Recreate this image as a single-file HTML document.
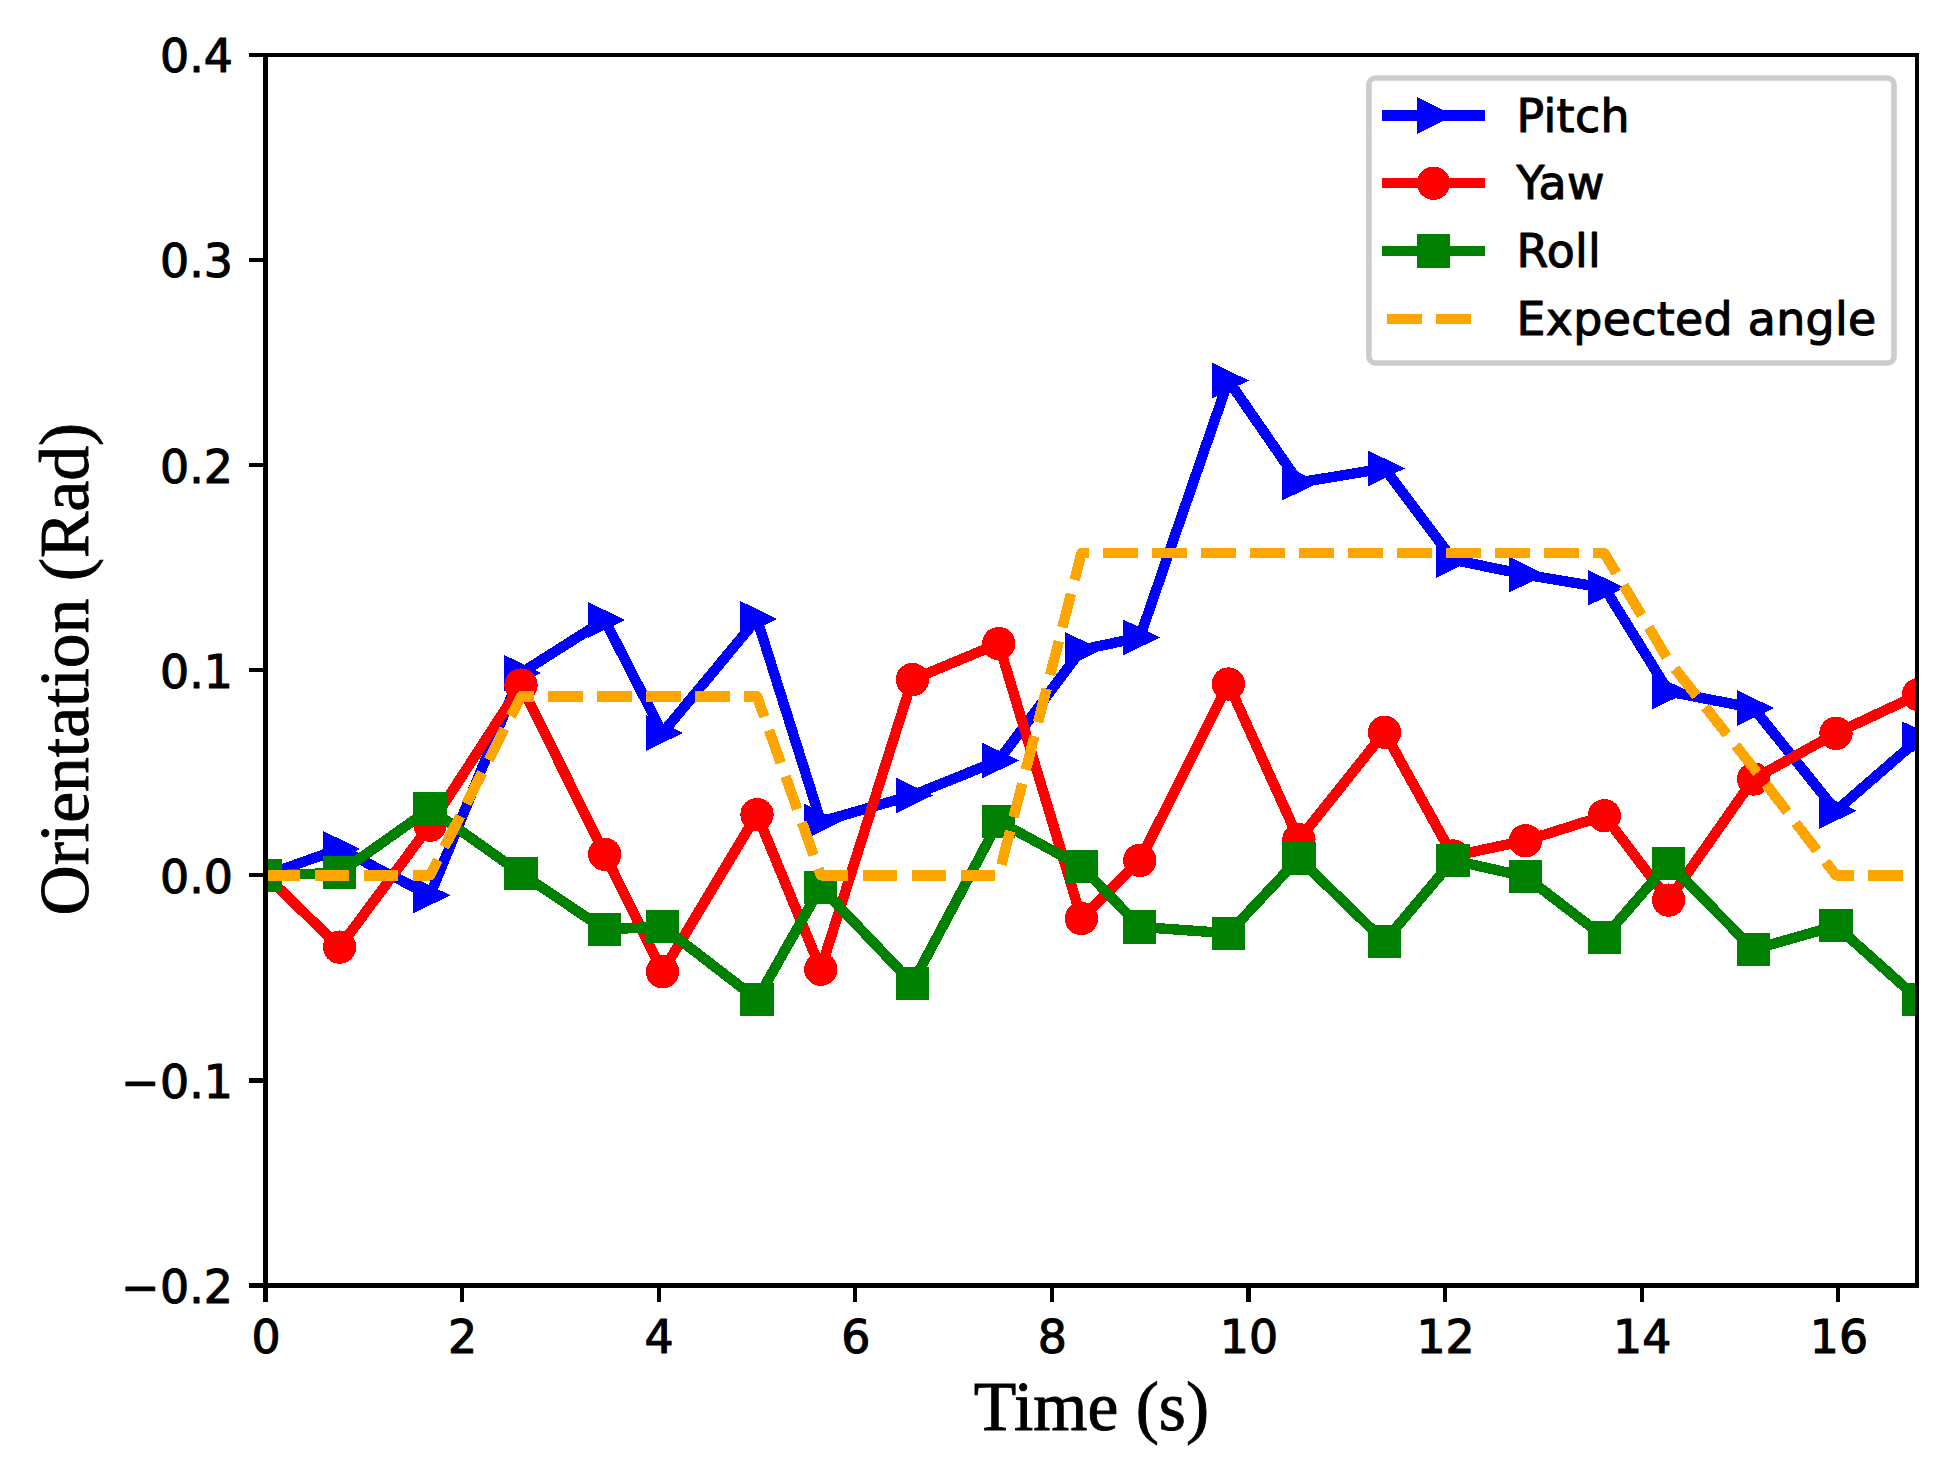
<!DOCTYPE html>
<html lang="en"><head><meta charset="utf-8"><title>Orientation vs Time</title>
<style>html,body{margin:0;padding:0;background:#fff}body{width:1939px;height:1470px;overflow:hidden}svg{display:block}.tk{font-family:"DejaVu Sans","Liberation Sans",sans-serif;font-size:45.83px;fill:#000;stroke:#000;stroke-width:1.1px;stroke-linejoin:round}.lg{letter-spacing:0.32px}.lb{font-family:"Liberation Serif","Times New Roman",serif;font-size:69.6px;fill:#000;stroke:#000;stroke-width:0.9px}</style></head><body>
<svg width="1939" height="1470" viewBox="0 0 1939 1470">
<rect width="1939" height="1470" fill="#fff"/>
<defs><clipPath id="ax"><rect x="265.5" y="55.0" width="1651.5" height="1230.5"/></clipPath></defs>
<g clip-path="url(#ax)" shape-rendering="crispEdges" fill="none" stroke-linejoin="round" stroke-linecap="butt">
<polyline points="265.5,875.3 339.6,848.9 430.0,895.3 521.0,673.0 604.7,620.0 662.5,733.0 757.0,619.0 820.8,821.6 912.4,795.4 998.7,760.5 1081.4,649.8 1139.8,637.4 1228.4,380.5 1298.9,482.5 1384.5,468.4 1453.0,559.7 1525.5,574.7 1604.4,587.8 1668.6,691.5 1753.5,708.0 1836.0,810.8 1918.5,739.2" stroke="#0000ff" stroke-width="10.4"/>
<g fill="#0000ff" stroke="none"><polygon points="248.8,857.3 285.9,875.3 248.8,893.3"/><polygon points="322.9,830.9 360.0,848.9 322.9,866.9"/><polygon points="413.3,877.3 450.4,895.3 413.3,913.3"/><polygon points="504.3,655.0 541.4,673.0 504.3,691.0"/><polygon points="588.0,602.0 625.1,620.0 588.0,638.0"/><polygon points="645.8,715.0 682.9,733.0 645.8,751.0"/><polygon points="740.3,601.0 777.4,619.0 740.3,637.0"/><polygon points="804.1,803.6 841.2,821.6 804.1,839.6"/><polygon points="895.7,777.4 932.8,795.4 895.7,813.4"/><polygon points="982.0,742.5 1019.1,760.5 982.0,778.5"/><polygon points="1064.7,631.8 1101.8,649.8 1064.7,667.8"/><polygon points="1123.1,619.4 1160.2,637.4 1123.1,655.4"/><polygon points="1211.7,362.5 1248.8,380.5 1211.7,398.5"/><polygon points="1282.2,464.5 1319.3,482.5 1282.2,500.5"/><polygon points="1367.8,450.4 1404.9,468.4 1367.8,486.4"/><polygon points="1436.3,541.7 1473.4,559.7 1436.3,577.7"/><polygon points="1508.8,556.7 1545.9,574.7 1508.8,592.7"/><polygon points="1587.7,569.8 1624.8,587.8 1587.7,605.8"/><polygon points="1651.9,673.5 1689.0,691.5 1651.9,709.5"/><polygon points="1736.8,690.0 1773.9,708.0 1736.8,726.0"/><polygon points="1819.3,792.8 1856.4,810.8 1819.3,828.8"/><polygon points="1901.8,721.2 1938.9,739.2 1901.8,757.2"/></g>
<polyline points="265.5,875.3 339.6,947.1 430.0,825.2 521.0,685.1 604.7,854.2 662.5,971.7 757.0,814.5 820.8,969.2 912.4,679.6 998.7,643.6 1081.4,918.5 1139.8,860.4 1228.4,684.0 1298.9,839.6 1384.5,732.3 1453.0,856.0 1525.5,840.7 1604.4,815.7 1668.6,900.1 1753.5,779.0 1836.0,733.3 1918.5,694.6" stroke="#ff0000" stroke-width="10.4"/>
<g fill="#ff0000" stroke="none"><circle cx="265.5" cy="875.3" r="16.67"/><circle cx="339.6" cy="947.1" r="16.67"/><circle cx="430.0" cy="825.2" r="16.67"/><circle cx="521.0" cy="685.1" r="16.67"/><circle cx="604.7" cy="854.2" r="16.67"/><circle cx="662.5" cy="971.7" r="16.67"/><circle cx="757.0" cy="814.5" r="16.67"/><circle cx="820.8" cy="969.2" r="16.67"/><circle cx="912.4" cy="679.6" r="16.67"/><circle cx="998.7" cy="643.6" r="16.67"/><circle cx="1081.4" cy="918.5" r="16.67"/><circle cx="1139.8" cy="860.4" r="16.67"/><circle cx="1228.4" cy="684.0" r="16.67"/><circle cx="1298.9" cy="839.6" r="16.67"/><circle cx="1384.5" cy="732.3" r="16.67"/><circle cx="1453.0" cy="856.0" r="16.67"/><circle cx="1525.5" cy="840.7" r="16.67"/><circle cx="1604.4" cy="815.7" r="16.67"/><circle cx="1668.6" cy="900.1" r="16.67"/><circle cx="1753.5" cy="779.0" r="16.67"/><circle cx="1836.0" cy="733.3" r="16.67"/><circle cx="1918.5" cy="694.6" r="16.67"/></g>
<polyline points="265.5,875.5 339.6,872.8 430.0,808.9 521.0,873.4 604.7,929.5 662.5,926.5 757.0,999.3 820.8,887.2 912.4,983.4 998.7,821.4 1081.4,866.3 1139.8,926.9 1228.4,933.3 1298.9,858.4 1384.5,941.4 1453.0,860.2 1525.5,876.6 1604.4,937.2 1668.6,863.2 1753.5,949.5 1836.0,925.8 1918.5,999.3" stroke="#008000" stroke-width="10.4"/>
<g fill="#008000" stroke="none"><rect x="248.8" y="858.8" width="33.3" height="33.3"/><rect x="322.9" y="856.1" width="33.3" height="33.3"/><rect x="413.3" y="792.2" width="33.3" height="33.3"/><rect x="504.3" y="856.7" width="33.3" height="33.3"/><rect x="588.0" y="912.8" width="33.3" height="33.3"/><rect x="645.8" y="909.8" width="33.3" height="33.3"/><rect x="740.3" y="982.6" width="33.3" height="33.3"/><rect x="804.1" y="870.5" width="33.3" height="33.3"/><rect x="895.7" y="966.7" width="33.3" height="33.3"/><rect x="982.0" y="804.7" width="33.3" height="33.3"/><rect x="1064.7" y="849.6" width="33.3" height="33.3"/><rect x="1123.1" y="910.2" width="33.3" height="33.3"/><rect x="1211.7" y="916.6" width="33.3" height="33.3"/><rect x="1282.2" y="841.7" width="33.3" height="33.3"/><rect x="1367.8" y="924.7" width="33.3" height="33.3"/><rect x="1436.3" y="843.5" width="33.3" height="33.3"/><rect x="1508.8" y="859.9" width="33.3" height="33.3"/><rect x="1587.7" y="920.5" width="33.3" height="33.3"/><rect x="1651.9" y="846.5" width="33.3" height="33.3"/><rect x="1736.8" y="932.8" width="33.3" height="33.3"/><rect x="1819.3" y="909.1" width="33.3" height="33.3"/><rect x="1901.8" y="982.6" width="33.3" height="33.3"/></g>
<polyline points="265.5,875.3 430.0,875.3 521.0,696.4 757.0,696.4 820.8,875.3 998.7,875.3 1081.4,553.2 1604.4,553.2 1668.6,660.6 1753.5,768.0 1836.0,875.3 1918.5,875.3" stroke="#ffa500" stroke-width="10.4" stroke-dasharray="34.8 14.2"/>
</g>
<g fill="#000" shape-rendering="crispEdges">
<rect x="263" y="53" width="5" height="1235"/>
<rect x="1915" y="53" width="4" height="1235"/>
<rect x="263" y="53" width="1656" height="4"/>
<rect x="263" y="1283" width="1656" height="5"/>
<rect x="263" y="1285" width="5" height="17"/>
<rect x="460" y="1285" width="4" height="17"/>
<rect x="657" y="1285" width="4" height="17"/>
<rect x="853" y="1285" width="4" height="17"/>
<rect x="1050" y="1285" width="4" height="17"/>
<rect x="1246" y="1285" width="5" height="17"/>
<rect x="1443" y="1285" width="4" height="17"/>
<rect x="1640" y="1285" width="4" height="17"/>
<rect x="1836" y="1285" width="4" height="17"/>
<rect x="249" y="1283" width="17" height="5"/>
<rect x="249" y="1078" width="17" height="5"/>
<rect x="249" y="873" width="17" height="4"/>
<rect x="249" y="668" width="17" height="4"/>
<rect x="249" y="463" width="17" height="4"/>
<rect x="249" y="258" width="17" height="4"/>
<rect x="249" y="53" width="17" height="4"/>
</g>
<g class="tk" text-anchor="middle">
<text x="266.0" y="1352.7">0</text>
<text x="462.6" y="1352.7">2</text>
<text x="659.2" y="1352.7">4</text>
<text x="855.8" y="1352.7">6</text>
<text x="1052.4" y="1352.7">8</text>
<text x="1249.0" y="1352.7">10</text>
<text x="1445.6" y="1352.7">12</text>
<text x="1642.2" y="1352.7">14</text>
<text x="1838.9" y="1352.7">16</text>
</g><g class="tk" text-anchor="end">
<text x="233.0" y="1302.8"><tspan letter-spacing="0.8">−</tspan>0.2</text>
<text x="233.0" y="1097.7"><tspan letter-spacing="0.8">−</tspan>0.1</text>
<text x="233.0" y="892.6">0.0</text>
<text x="233.0" y="687.5">0.1</text>
<text x="233.0" y="482.5">0.2</text>
<text x="233.0" y="277.4">0.3</text>
<text x="233.0" y="72.3">0.4</text>
</g>
<text class="lb" text-anchor="middle" x="1091.5" y="1429.6">Time (s)</text>
<text class="lb" text-anchor="middle" transform="translate(87.7,669.2) rotate(-90)">Orientation (Rad)</text>
<rect x="1368.9" y="78" width="525.1" height="285" rx="6.5" ry="6.5" fill="#fff" stroke="#cccccc" stroke-width="5.6"/>
<g shape-rendering="crispEdges">
<rect x="1382" y="110.0" width="103" height="11" fill="#0000ff"/><g fill="#0000ff"><polygon points="1416.8,96.9 1453.9,115.5 1416.8,134.1"/></g>
<rect x="1382" y="178.0" width="103" height="10.4" fill="#ff0000"/><g fill="#ff0000"><circle cx="1433.5" cy="183.2" r="16.67"/></g>
<rect x="1382" y="246" width="103" height="10" fill="#008000"/><g fill="#008000"><rect x="1416.8" y="234.3" width="33.3" height="33.3"/></g>
<rect x="1387" y="314" width="35" height="10" fill="#ffa500"/><rect x="1436" y="314" width="35" height="10" fill="#ffa500"/>
</g>
<g class="tk lg">
<text x="1516.6" y="131.6">Pitch</text>
<text x="1516.6" y="199.3">Yaw</text>
<text x="1516.6" y="267.1">Roll</text>
<text x="1516.6" y="335.1">Expected angle</text>
</g>
</svg></body></html>
